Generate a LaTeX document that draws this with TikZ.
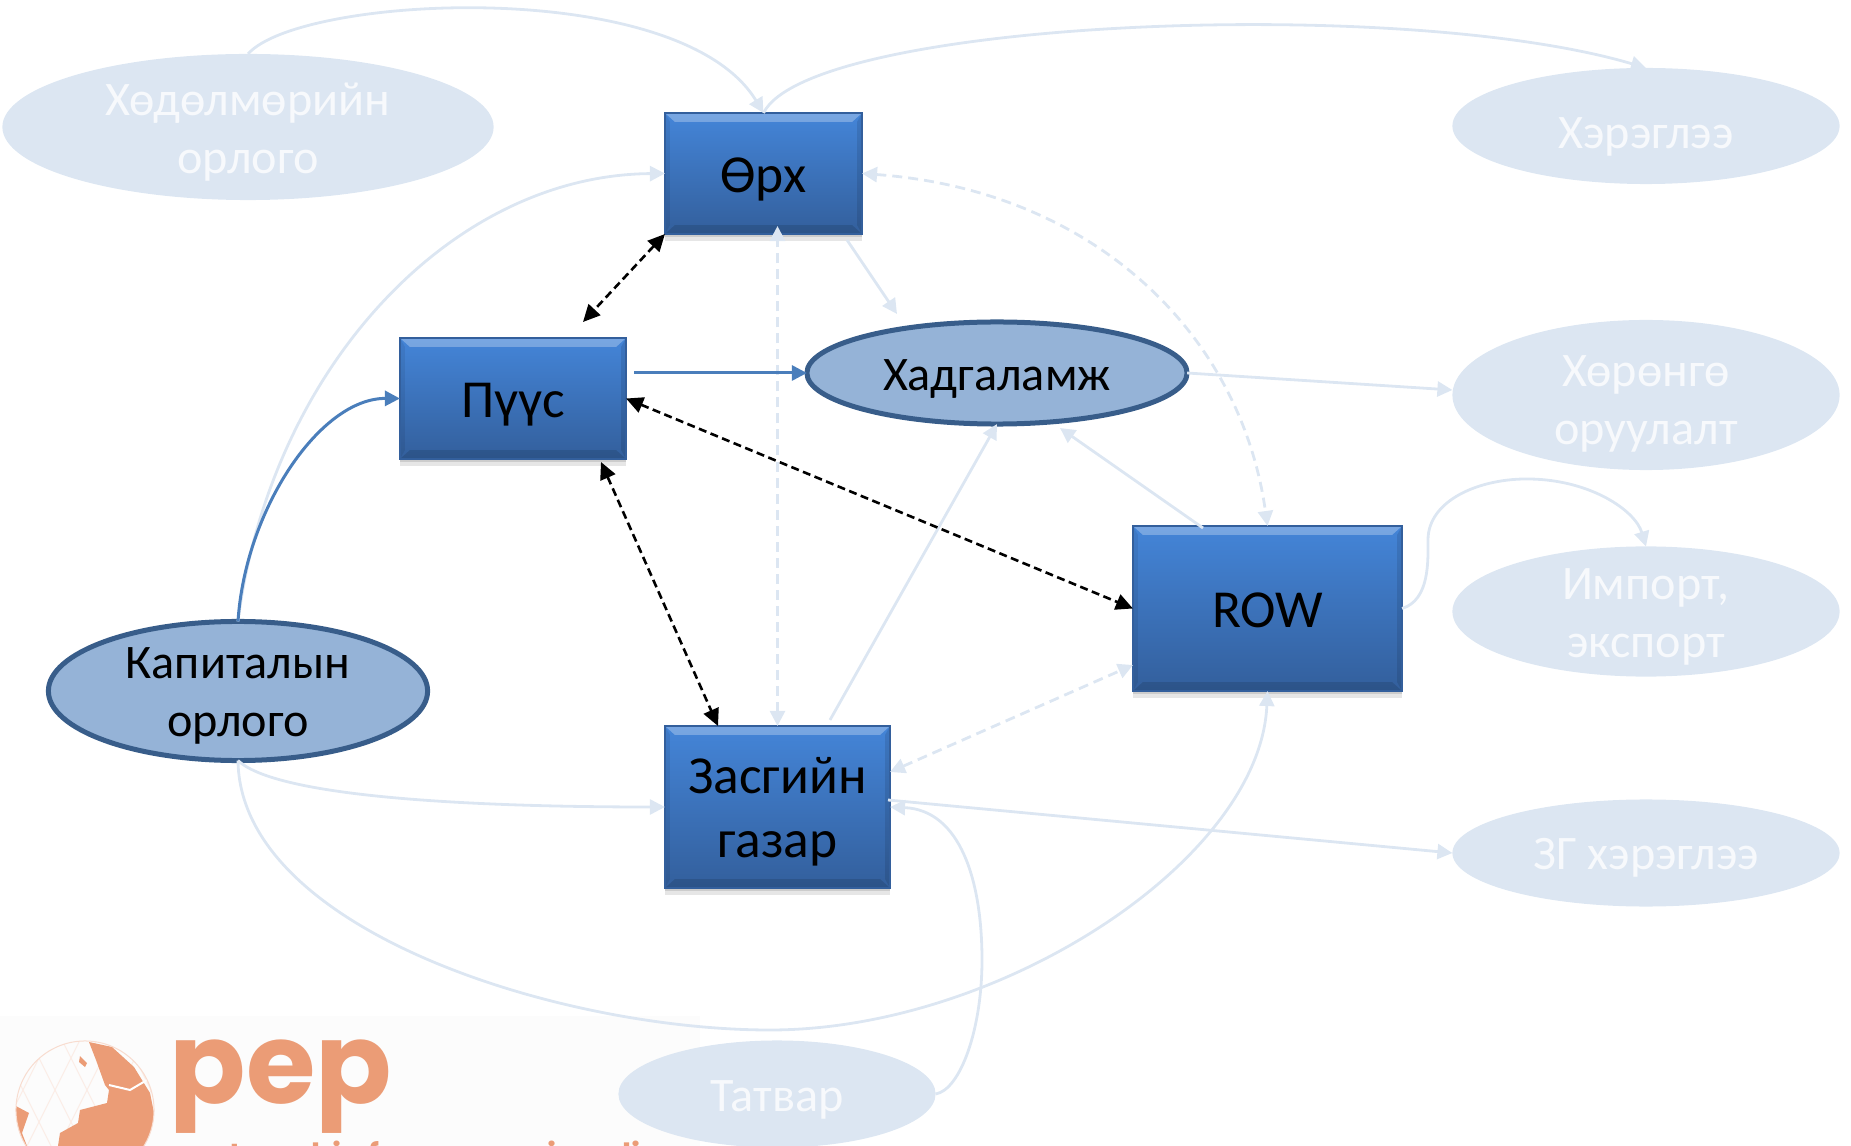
\documentclass[tikz,border=0pt]{standalone}
\usepackage{fontspec}
\setmainfont{Carlito}
\newfontfamily\pepfont{Poppins}
\usetikzlibrary{arrows.meta,shapes.geometric,shadows}
\definecolor{palefill}{HTML}{DCE6F2}
\definecolor{paletext}{HTML}{F7F9FC}
\definecolor{midfill}{HTML}{95B3D7}
\definecolor{midedge}{HTML}{385D8A}
\definecolor{boxtop}{HTML}{4485D8}
\definecolor{boxlow}{HTML}{335F9C}
\definecolor{linkblue}{HTML}{4A7EBB}
\definecolor{peporange}{HTML}{EB9C76}
\tikzset{
    bluebox/.style={rectangle, inner sep=0, outer sep=0, align=center, font=\fontsize{15.2}{18}\selectfont, text depth=0pt,
        top color=boxtop, bottom color=boxlow, draw=boxlow, line width=0.12mm,
        drop shadow={shadow xshift=0cm, shadow yshift=-0.03cm, opacity=0.25},
        drop shadow={shadow xshift=0cm, shadow yshift=-0.07cm, opacity=0.2},
        path picture={
            \fill[white, opacity=0.28] (path picture bounding box.north west) -- (path picture bounding box.north east)
                -- ([xshift=-0.1cm, yshift=-0.09cm]path picture bounding box.north east)
                -- ([xshift=0.1cm, yshift=-0.09cm]path picture bounding box.north west) -- cycle;
            \fill[black, opacity=0.12] (path picture bounding box.south west) -- (path picture bounding box.south east)
                -- ([xshift=-0.1cm, yshift=0.09cm]path picture bounding box.south east)
                -- ([xshift=0.1cm, yshift=0.09cm]path picture bounding box.south west) -- cycle;
            \fill[black, opacity=0.07] (path picture bounding box.north west) -- ([xshift=0.05cm, yshift=-0.09cm]path picture bounding box.north west)
                -- ([xshift=0.05cm, yshift=0.09cm]path picture bounding box.south west) -- (path picture bounding box.south west) -- cycle;
            \fill[black, opacity=0.1] (path picture bounding box.north east) -- ([xshift=-0.05cm, yshift=-0.09cm]path picture bounding box.north east)
                -- ([xshift=-0.05cm, yshift=0.09cm]path picture bounding box.south east) -- (path picture bounding box.south east) -- cycle;
        }},
    midoval/.style={ellipse, inner sep=0, outer sep=0, align=center, fill=midfill, draw=midedge, line width=0.5mm,
        text depth=0pt, font=\fontsize{13.7}{16.4}\selectfont},
    paleoval/.style={ellipse, inner sep=0, outer sep=0, align=center, fill=palefill, text=paletext,
        text depth=0pt, font=\fontsize{13.7}{16.4}\selectfont},
    palelink/.style={draw=palefill, line width=0.28mm, -{Triangle[length=1.5mm, width=1.5mm]}},
    paledash/.style={palelink, dash pattern=on 1mm off 0.6mm, {Triangle[length=1.5mm, width=1.5mm]}-{Triangle[length=1.5mm, width=1.5mm]}},
    bluelink/.style={draw=linkblue, line width=0.3mm, -{Triangle[length=1.5mm, width=1.5mm]}},
    blacklink/.style={draw=black, dash pattern=on 0.8mm off 0.45mm, line width=0.26mm, {Triangle[length=1.7mm, width=1.6mm]}-{Triangle[length=1.7mm, width=1.6mm]}}
}
\begin{document}
\begin{tikzpicture}[x=0.01cm, y=-0.01cm]
    \useasboundingbox (0, 0) rectangle (1851, 1146);
    \begin{scope}
        \clip (0, 0) rectangle (1851, 1146);
        \fill[black!1] (0, 1016) rectangle (700, 1146);
        \begin{scope}
            \clip (85, 1110) circle (0.69cm);
            \foreach \k in {-2,...,3} {
                \draw[peporange!18, line width=0.1mm] (85 + \k * 32, 1030) -- (25 + \k * 32, 1150);
                \draw[peporange!18, line width=0.1mm] (25 + \k * 32, 1030) -- (85 + \k * 32, 1150);
            }
            \fill[peporange] (89, 1042) -- (112, 1047) -- (134, 1067) -- (150, 1093) -- (154, 1113) -- (150, 1146)
                -- (58, 1146) -- (60, 1133) -- (78, 1123) -- (80, 1110) -- (107, 1103) -- (109, 1090) -- (105, 1085) -- (96, 1060) -- cycle;
            \fill[peporange] (14, 1105) -- (29, 1113) -- (22, 1133) -- (27, 1146) -- (14, 1146) -- cycle;
            \fill[peporange] (80, 1056) -- (87, 1063) -- (85, 1067) -- (79, 1062) -- cycle;
            \draw[white, line width=0.2mm] (109, 1085) -- (130, 1090) -- (147, 1080);
        \end{scope}
        \draw[peporange!35, line width=0.1mm] (85, 1110) circle (0.69cm);
        \node[text=peporange, font=\pepfont\bfseries\fontsize{32}{32}\selectfont, anchor=base] (pepmark) at (281, 1103) {pep};
        \node[text=peporange, font=\pepfont\bfseries\fontsize{8.7}{10}\selectfont, anchor=base west, inner sep=0] (pepline) at (174, 1165) {partnership for economic policy};
    \end{scope}

    \node[paleoval, minimum width=4.91cm, minimum height=1.46cm, text height=0.92cm] (labor) at (248, 127) {Хөдөлмөрийн\\орлого};
    \node[paleoval, minimum width=3.87cm, minimum height=1.16cm, text height=0.44cm] (cons) at (1646, 126) {Хэрэглээ};
    \node[paleoval, minimum width=3.87cm, minimum height=1.5cm, text height=0.98cm] (invest) at (1646, 395) {Хөрөнгө\\оруулалт};
    \node[paleoval, minimum width=3.87cm, minimum height=1.25cm, text height=0.92cm] (trade) at (1646, 611.5) {Импорт,\\экспорт};
    \node[paleoval, minimum width=3.87cm, minimum height=1.07cm, text height=0.32cm] (govcons) at (1646, 853) {ЗГ хэрэглээ};
    \node[paleoval, minimum width=3.17cm, minimum height=1.07cm, text height=0.34cm] (tax) at (777, 1094) {Татвар};

    \node[bluebox, minimum width=1.97cm, minimum height=1.21cm, text height=0.37cm] (urkh) at (763.5, 173.5) {Өрх};
    \node[bluebox, minimum width=2.26cm, minimum height=1.21cm, text height=0.38cm] (firm) at (513, 398.5) {Пүүс};
    \node[bluebox, minimum width=2.69cm, minimum height=1.65cm, text height=0.37cm] (row) at (1267.5, 608.5) {ROW};
    \node[bluebox, minimum width=2.25cm, minimum height=1.62cm, text height=1cm] (gov) at (777.5, 807) {Засгийн\\газар};
    \node[midoval, minimum width=3.8cm, minimum height=1.02cm, text height=0.34cm] (save) at (997, 373) {Хадгаламж};
    \node[midoval, minimum width=3.79cm, minimum height=1.39cm, text height=0.9cm] (capital) at (238, 691) {Капиталын\\орлого};

    \draw[palelink] (labor.north) .. controls (300, -5) and (680, -25) .. (urkh.north);
    \draw[palelink] (urkh.north) .. controls (810, 20) and (1400, -5) .. (cons.north);
    \draw[palelink] (capital.north) .. controls (270, 370) and (450, 175) .. (urkh.west);
    \draw[paledash] (gov.north) -- ([yshift=0.08cm]gov.north |- urkh.south);
    \draw[paledash] (urkh.east) .. controls (1090, 190) and (1240, 330) .. (row.north);
    \draw[palelink] (847, 240) -- (897, 314);
    \draw[palelink] (830, 720) -- (save.south);
    \draw[palelink] (1203, 528) -- (1060, 428);
    \draw[palelink] (save.east) -- ([yshift=0.05cm]invest.west);
    \draw[palelink] (row.east) .. controls (1430, 600) and (1428, 560) .. (1428, 540)
        .. controls (1428, 500) and (1480, 478) .. (1530, 479) .. controls (1590, 480) and (1635, 510) .. (trade.north);
    \draw[paledash] (890, 772) -- (1133, 665);
    \draw[palelink] (888, 800) -- (govcons.west);
    \draw[palelink] (capital.south) .. controls (280, 800) and (500, 807) .. (gov.west);
    \draw[palelink] (capital.south) .. controls (240, 930) and (560, 1030) .. (770, 1030)
        .. controls (1000, 1030) and (1260, 860) .. (row.south);
    \draw[palelink] (tax.east) .. controls (960, 1090) and (982, 1030) .. (982, 960)
        .. controls (982, 880) and (960, 810) .. (gov.east);

    \draw[bluelink] (capital.north) .. controls (245, 510) and (320, 398) .. (firm.west);
    \draw[bluelink] (634, 373) -- (save.west);
    \draw[blacklink] (urkh.south west) -- (583, 322);
    \draw[blacklink] (firm.east) -- (row.west);
    \draw[blacklink] (601, 462) -- (718, 726);
\end{tikzpicture}
\end{document}
